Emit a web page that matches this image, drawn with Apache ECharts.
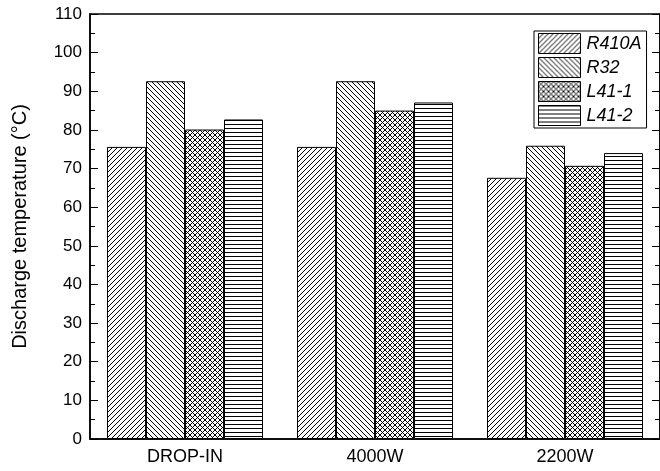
<!DOCTYPE html>
<html>
<head>
<meta charset="utf-8">
<script src="https://cdn.jsdelivr.net/npm/echarts@6/dist/echarts.min.js"></script>
<style>
  html, body { margin: 0; padding: 0; background: #fff; }
  #chart { width: 660px; height: 471px; }
</style>
</head>
<body>
<div id="chart"></div>
<script>
const categories = ["DROP-IN", "4000W", "2200W"];
const seriesNames = ["R410A", "R32", "L41-1", "L41-2"];
const r410a = [75.6, 75.6, 67.6];
const r32 = [92.6, 92.6, 75.9];
const l41_1 = [80.1, 85.0, 70.7];
const l41_2 = [82.7, 87.1, 74.0];
const yTicks = [0, 10, 20, 30, 40, 50, 60, 70, 80, 90, 100, 110];

// hatch tiles drawn on little canvases
const makeTile = (w, h, draw) => {
  const c = document.createElement("canvas");
  c.width = w;
  c.height = h;
  const ctx = c.getContext("2d");
  ctx.fillStyle = "#fff";
  ctx.fillRect(0, 0, w, h);
  ctx.strokeStyle = "#000";
  ctx.lineWidth = 1;
  draw(ctx, w, h);
  return { image: c, repeat: "repeat" };
};
const line = (ctx, x1, y1, x2, y2) => {
  ctx.beginPath();
  ctx.moveTo(x1, y1);
  ctx.lineTo(x2, y2);
  ctx.stroke();
};
const fwd = (ctx, s) => {
  line(ctx, -1, s + 1, s + 1, -1);
  line(ctx, -1, 1, 1, -1);
  line(ctx, s - 1, s + 1, s + 1, s - 1);
};
const back = (ctx, s) => {
  line(ctx, -1, -1, s + 1, s + 1);
  line(ctx, s - 1, -1, s + 1, 1);
  line(ctx, -1, s - 1, 1, s + 1);
};
const patterns = [
  makeTile(5, 5, (ctx, s) => fwd(ctx, s)),
  makeTile(5, 5, (ctx, s) => back(ctx, s)),
  makeTile(5, 5, (ctx, s) => { fwd(ctx, s); back(ctx, s); }),
  makeTile(4, 4, (ctx, w) => line(ctx, 0, 0.5, w, 0.5)),
];

const font = "'Liberation Sans', Arial, sans-serif";
const myChart = echarts.init(document.getElementById("chart"));
const seriesData = [r410a, r32, l41_1, l41_2];

myChart.setOption({
  animation: false,
  textStyle: { fontFamily: font },
  grid: {
    left: 90,
    top: 14,
    width: 577,
    height: 425,
    show: true,
    borderColor: "#000",
    borderWidth: 1.5,
  },
  legend: {
    orient: "vertical",
    left: 534,
    top: 31,
    padding: [2, 5, 2, 4],
    itemWidth: 42,
    itemHeight: 20,
    itemGap: 3,
    borderColor: "#000",
    borderWidth: 1,
    backgroundColor: "#fff",
    icon: "rect",
    itemStyle: { borderColor: "#000", borderWidth: 1 },
    textStyle: {
      fontFamily: font,
      fontSize: 18,
      fontStyle: "italic",
      color: "#000",
      padding: [0, 0, 0, 1],
    },
    data: seriesNames,
  },
  xAxis: {
    type: "category",
    data: categories,
    axisLine: { lineStyle: { color: "#000", width: 1.5 } },
    axisTick: { inside: true, length: 5, lineStyle: { color: "#000" } },
    axisLabel: { color: "#000", fontSize: 18, margin: 9, fontFamily: font },
  },
  yAxis: [
    {
      type: "value",
      min: 0,
      max: 110,
      interval: 10,
      name: "Discharge temperature (°C)",
      nameLocation: "middle",
      nameGap: 60,
      nameTextStyle: { fontSize: 20, color: "#000", fontFamily: font },
      axisLine: { show: true, lineStyle: { color: "#000", width: 1.5 } },
      axisTick: { show: true, inside: true, length: 8, lineStyle: { color: "#000" } },
      minorTick: { show: true, splitNumber: 2, length: 5, lineStyle: { color: "#000" } },
      splitLine: { show: false },
      axisLabel: {
        color: "#000",
        fontSize: 17,
        margin: 8,
        fontFamily: font,
        formatter: (v) => (yTicks.includes(v) ? String(v) : ""),
      },
    },
    {
      type: "value",
      position: "right",
      min: 0,
      max: 110,
      interval: 10,
      axisLine: { show: true, lineStyle: { color: "#000", width: 1.5 } },
      axisTick: { show: true, inside: true, length: 8, lineStyle: { color: "#000" } },
      minorTick: { show: true, splitNumber: 2, length: 5, lineStyle: { color: "#000" } },
      splitLine: { show: false },
      axisLabel: { show: false },
    },
  ],
  series: seriesNames.map((name, i) => ({
    name,
    type: "bar",
    data: seriesData[i],
    barWidth: 39,
    barGap: "0%",
    itemStyle: {
      color: patterns[i],
      borderColor: "#000",
      borderWidth: 1,
    },
  })),
});
</script>
</body>
</html>
